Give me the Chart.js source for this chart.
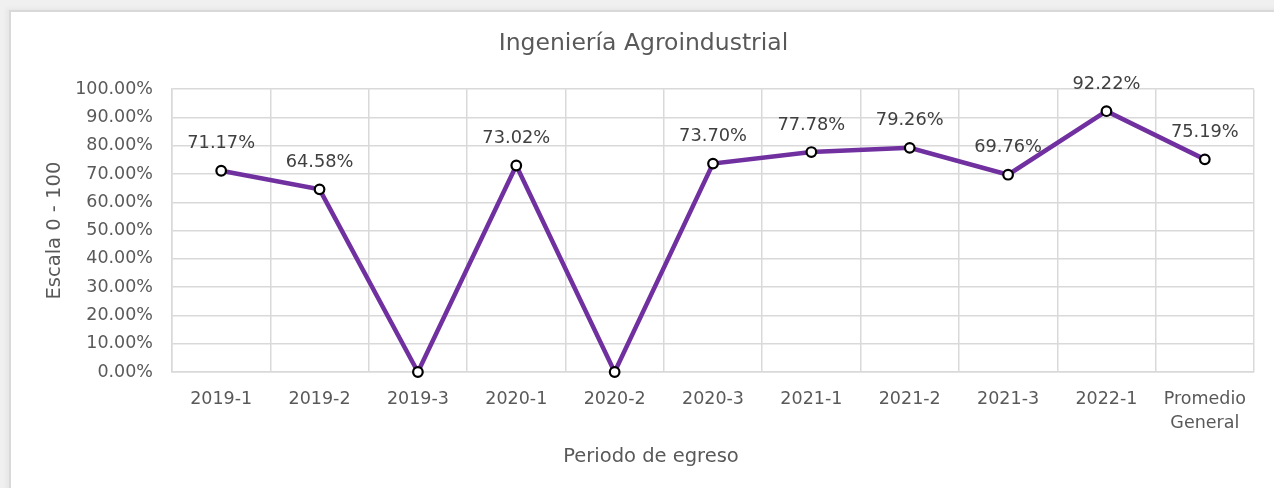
<!DOCTYPE html>
<html>
<head>
<meta charset="utf-8">
<script src="https://cdn.jsdelivr.net/npm/chart.js@4.4.1/dist/chart.umd.min.js"></script>
<style>
  html, body { margin: 0; padding: 0; width: 1274px; height: 488px; overflow: hidden; background: #f0f0f0; }
  #frame { position: absolute; left: 9px; top: 10px; width: 1300px; height: 500px; background: #ffffff;
           border-left: 2px solid #d9d9d9; border-top: 2px solid #d9d9d9; box-shadow: -3px -2px 4px rgba(0,0,0,0.04); }
  #c { position: absolute; left: 0; top: 0; }
</style>
</head>
<body>
<div id="frame"></div>
<canvas id="c" width="1274" height="488"></canvas>
<script>
const chartTitle = 'Ingeniería Agroindustrial';
const xAxisTitle = 'Periodo de egreso';
const yAxisTitle = 'Escala 0 - 100';
const categories = ['2019-1', '2019-2', '2019-3', '2020-1', '2020-2', '2020-3', '2021-1', '2021-2', '2021-3', '2022-1', ['Promedio', 'General']];
const values = [71.17, 64.58, 0, 73.02, 0, 73.70, 77.78, 79.26, 69.76, 92.22, 75.19];
const yMin = 0, yMax = 100, yStep = 10;

const FONT = "'DejaVu Sans', Verdana, sans-serif";
const TXT = '#595959';

const dataLabels = {
  id: 'dataLabels',
  afterDatasetsDraw(chart) {
    const ctx = chart.ctx;
    const meta = chart.getDatasetMeta(0);
    ctx.save();
    ctx.font = '17.8px ' + FONT;
    ctx.fillStyle = '#404040';
    ctx.textAlign = 'center';
    ctx.textBaseline = 'middle';
    meta.data.forEach((pt, i) => {
      const v = values[i];
      if (v > 0) ctx.fillText(v.toFixed(2) + '%', pt.x, pt.y - 27);
    });
    ctx.restore();
  }
};

const xTitle = {
  id: 'xTitle',
  afterDraw(chart) {
    const ctx = chart.ctx;
    ctx.save();
    ctx.font = '19.5px ' + FONT;
    ctx.fillStyle = TXT;
    ctx.textAlign = 'center';
    ctx.textBaseline = 'middle';
    ctx.fillText(xAxisTitle, 651, 457);
    ctx.restore();
  }
};

new Chart(document.getElementById('c'), {
  type: 'line',
  data: {
    labels: categories,
    datasets: [{
      data: values,
      borderColor: '#7030a0',
      borderWidth: 4.5,
      tension: 0,
      pointRadius: 4.8,
      pointBorderWidth: 2.2,
      pointBorderColor: '#000000',
      pointBackgroundColor: '#ffffff',
      clip: false
    }]
  },
  options: {
    responsive: false,
    animation: false,
    devicePixelRatio: 1,
    layout: { padding: { left: 33, right: 20, top: 0, bottom: 0 } },
    plugins: {
      legend: { display: false },
      tooltip: { enabled: false },
      title: {
        display: true,
        text: chartTitle,
        color: TXT,
        font: { family: FONT, size: 23.5, weight: 'normal' },
        padding: { top: 30, bottom: 31 }
      }
    },
    scales: {
      x: {
        type: 'category',
        offset: true,
        grid: { offset: true, color: '#d9d9d9', lineWidth: 1.5, drawTicks: false },
        border: { display: true, color: '#d9d9d9', width: 1.5 },
        ticks: { color: TXT, font: { family: FONT, size: 17.5, lineHeight: 1.4 }, padding: 15, maxRotation: 0, autoSkip: false },
        title: { display: false },
        afterFit(scale) { scale.height = 116; }
      },
      y: {
        min: yMin, max: yMax,
        grid: { color: '#d9d9d9', lineWidth: 1.5, drawTicks: false },
        border: { display: true, color: '#d9d9d9', width: 1.5 },
        ticks: { stepSize: yStep, color: TXT, font: { family: FONT, size: 17.5 }, padding: 19,
                 callback: v => v.toFixed(2) + '%' },
        title: { display: true, text: yAxisTitle, color: TXT, font: { family: FONT, size: 19.5 }, padding: { top: 10, bottom: 0 } },
        afterFit(scale) { scale.width = 139; }
      }
    }
  },
  plugins: [dataLabels, xTitle]
});
</script>
</body>
</html>
